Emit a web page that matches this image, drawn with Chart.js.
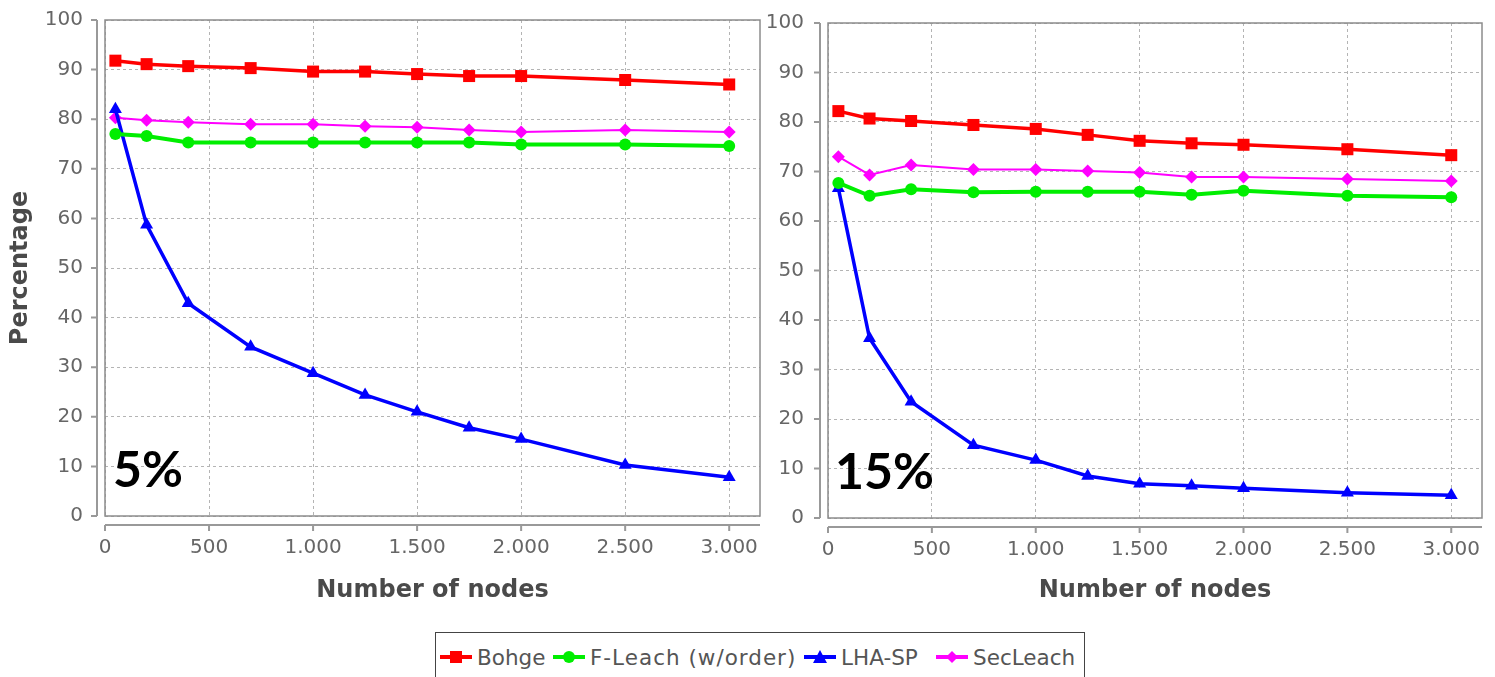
<!DOCTYPE html>
<html>
<head>
<meta charset="utf-8">
<script src="https://cdn.jsdelivr.net/npm/chart.js@4.4.0/dist/chart.umd.min.js"></script>
<style>
  html, body { margin: 0; padding: 0; background: #fff; }
  body { width: 1495px; height: 677px; position: relative; overflow: hidden; font-family: "DejaVu Sans", sans-serif; }
  #c1 { position: absolute; left: 0; top: 0; }
  #c2 { position: absolute; left: 762px; top: 0; }
  #legend { position: absolute; left: 435px; top: 632px; width: 650px; height: 52px; border: 1px solid #444; box-sizing: border-box; }
  .item { position: absolute; top: 12px; height: 24px; display: flex; align-items: center; font-size: 21.5px; color: #555; white-space: nowrap; }
  .item svg { margin-right: 5px; }
  .wide { letter-spacing: 1px; }
</style>
</head>
<body>
<canvas id="c1" width="762" height="610"></canvas>
<canvas id="c2" width="733" height="610"></canvas>
<div id="legend"></div>
<script>
// ---- data ----
const nodes = [50, 200, 400, 700, 1000, 1250, 1500, 1750, 2000, 2500, 3000];
const seriesNames = ['Bohge', 'F-Leach (w/order)', 'LHA-SP', 'SecLeach'];

const bohge5  = [91.8, 91.1, 90.7, 90.3, 89.6, 89.6, 89.1, 88.7, 88.7, 87.9, 87.0];
const fleach5 = [77.0, 76.6, 75.3, 75.3, 75.3, 75.3, 75.3, 75.3, 74.9, 74.9, 74.6];
const lha5    = [82.0, 58.7, 42.9, 34.1, 28.8, 24.4, 21.0, 17.8, 15.5, 10.3, 7.8];
const sec5    = [80.3, 79.8, 79.4, 79.0, 79.0, 78.6, 78.4, 77.8, 77.4, 77.8, 77.4];

const bohge15  = [82.2, 80.7, 80.2, 79.4, 78.6, 77.4, 76.2, 75.7, 75.4, 74.5, 73.3];
const fleach15 = [67.7, 65.1, 66.4, 65.8, 65.9, 65.9, 65.9, 65.3, 66.1, 65.1, 64.8];
const lha15    = [66.6, 36.3, 23.5, 14.7, 11.7, 8.5, 6.9, 6.5, 6.0, 5.1, 4.6];
const sec15    = [73.0, 69.3, 71.3, 70.4, 70.4, 70.1, 69.8, 68.9, 68.9, 68.5, 68.1];

const xTicks = [0, 500, 1000, 1500, 2000, 2500, 3000];
const yTicks = [0, 10, 20, 30, 40, 50, 60, 70, 80, 90, 100];
const panelLabels = ['5%', '15%'];

// ---- styles ----
const colors = ['#ff0000', '#00ee00', '#0000ff', '#ff00ff'];
const pStyles = ['rect', 'circle', 'triangle', 'rectRot'];
const pRadius = [8.5, 6, 7.5, 6.5];
const lWidths = [3.5, 4, 3.5, 2];

function pts(vals) { return nodes.map((n, i) => ({ x: n, y: vals[i] })); }
function makeDatasets(arrs) {
  return arrs.map((a, i) => ({
    label: seriesNames[i],
    data: pts(a),
    borderColor: colors[i],
    backgroundColor: colors[i],
    pointStyle: pStyles[i],
    pointRadius: pRadius[i],
    pointHoverRadius: pRadius[i],
    pointBorderWidth: 0,
    borderWidth: lWidths[i],
    tension: 0,
    showLine: true
  }));
}
function fmt(v) { return String(v).replace(/\B(?=(\d{3})+(?!\d))/g, '.'); }

const jfAxes = {
  id: 'jfAxes',
  afterDraw(chart, args, opts) {
    const { ctx, chartArea: { left, right, top, bottom } } = chart;
    const xs = chart.scales.x, ys = chart.scales.y;
    ctx.save();
    ctx.strokeStyle = '#8c8c8c';
    ctx.lineWidth = 1.5;
    ctx.strokeRect(left, top, right - left, bottom - top);
    const ax = left - 8;
    ctx.beginPath();
    ctx.moveTo(ax, top); ctx.lineTo(ax, bottom);
    ys.ticks.forEach(t => { const py = ys.getPixelForValue(t.value); ctx.moveTo(ax - 6, py); ctx.lineTo(ax, py); });
    const ay = bottom + 9;
    ctx.moveTo(left, ay); ctx.lineTo(right, ay);
    xs.ticks.forEach(t => { const px = xs.getPixelForValue(t.value); ctx.moveTo(px, ay); ctx.lineTo(px, ay + 6); });
    ctx.strokeStyle = '#999';
    ctx.lineWidth = 2;
    ctx.stroke();
    ctx.fillStyle = '#000';
    ctx.font = 'bold 50px Lato, "Liberation Sans", sans-serif';
    ctx.textBaseline = 'alphabetic';
    ctx.textAlign = 'left';
    ctx.fillText(opts.label, left + opts.dx, bottom - 29);
    ctx.restore();
  }
};

function makeChart(id, arrs, cfg) {
  return new Chart(document.getElementById(id), {
    type: 'scatter',
    data: { datasets: makeDatasets(arrs) },
    plugins: [jfAxes],
    options: {
      responsive: false,
      animation: false,
      events: [],
      layout: { autoPadding: false, padding: { top: cfg.top, right: cfg.right, left: 0, bottom: 0 } },
      plugins: { legend: { display: false }, tooltip: { enabled: false }, jfAxes: { label: cfg.label, dx: cfg.dx } },
      scales: {
        x: {
          type: 'linear', min: 0, max: 3148,
          afterBuildTicks(s) { s.ticks = xTicks.map(v => ({ value: v })); },
          afterFit(s) { s.height = cfg.xh; s.paddingLeft = 0; s.paddingRight = 0; },
          grid: { color: '#b4b4b4', drawTicks: false, lineWidth: 1 },
          border: { display: false, dash: [3, 3] },
          ticks: { padding: 20, color: '#666', font: { family: 'DejaVu Sans', size: 20 }, maxRotation: 0, callback: v => fmt(v) },
          title: { display: true, text: 'Number of nodes', color: '#4a4a4a', font: { family: 'DejaVu Sans', size: 24, weight: 'bold' }, padding: { top: 0, bottom: 5 } }
        },
        y: {
          type: 'linear', min: 0, max: 100,
          afterBuildTicks(s) { s.ticks = yTicks.map(v => ({ value: v })); },
          afterFit(s) { s.width = cfg.yw; s.paddingTop = 0; s.paddingBottom = 0; },
          grid: { color: '#b4b4b4', drawTicks: false, lineWidth: 1 },
          border: { display: false, dash: [3, 3] },
          ticks: { padding: cfg.ypad, color: '#666', font: { family: 'DejaVu Sans', size: 20 } },
          title: { display: cfg.ytitle, text: 'Percentage', color: '#4a4a4a', font: { family: 'DejaVu Sans', size: 24, weight: 'bold' }, padding: { top: 6, bottom: 0 } }
        }
      }
    }
  });
}

makeChart('c1', [bohge5, fleach5, lha5, sec5], { top: 20, right: 2, xh: 94, yw: 105, ypad: 22, ytitle: true, label: panelLabels[0], dx: 8 });
makeChart('c2', [bohge15, fleach15, lha15, sec15], { top: 23, right: 13, xh: 92, yw: 66, ypad: 24, ytitle: false, label: panelLabels[1], dx: 7 });

// ---- legend ----
const legendX = [4, 117, 368, 500];
const leg = document.getElementById('legend');
function symbol(i) {
  const c = colors[i];
  let m = '';
  if (i === 0) m = `<rect x="10" y="2" width="12" height="12" fill="${c}"/>`;
  if (i === 1) m = `<circle cx="16" cy="8" r="6" fill="${c}"/>`;
  if (i === 2) m = `<polygon points="16,1 23,14 9,14" fill="${c}"/>`;
  if (i === 3) m = `<polygon points="16,2 22,8 16,14 10,8" fill="${c}"/>`;
  return `<svg width="32" height="16" viewBox="0 0 32 16"><line x1="0" y1="8" x2="32" y2="8" stroke="${c}" stroke-width="4"/>${m}</svg>`;
}
seriesNames.forEach((n, i) => {
  const d = document.createElement('div');
  d.className = 'item';
  d.style.left = legendX[i] + 'px';
  d.innerHTML = symbol(i) + '<span' + (i === 1 ? ' class="wide"' : '') + '>' + n + '</span>';
  leg.appendChild(d);
});
</script>
</body>
</html>
